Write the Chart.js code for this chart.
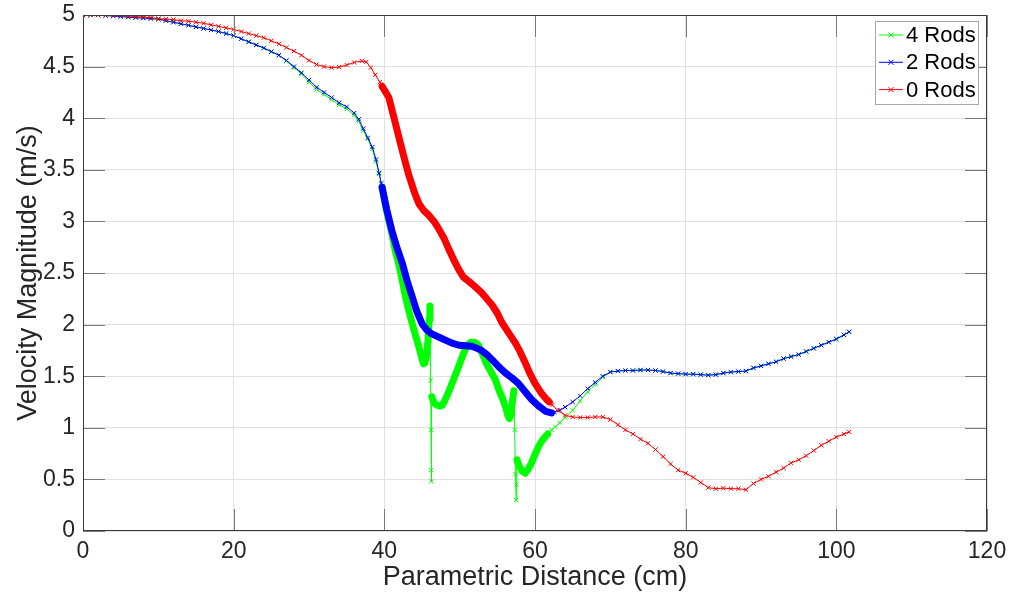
<!DOCTYPE html>
<html>
<head>
<meta charset="utf-8">
<script src="https://cdn.jsdelivr.net/npm/chart.js@4.4.1/dist/chart.umd.min.js"></script>
<style>
  body { margin: 0; background: #fff; }
  #wrap { width: 1009px; height: 602px; }
</style>
</head>
<body>
<div id="wrap"><canvas id="grafico" width="1009" height="602"></canvas></div>
<script>
const xTicks = [0, 20, 40, 60, 80, 100, 120]
const yTicks = [0, 0.5, 1, 1.5, 2, 2.5, 3, 3.5, 4, 4.5, 5]
const rotulos = ["4 Rods", "2 Rods", "0 Rods"]
const tituloX = "Parametric Distance (cm)"
const tituloY = "Velocity Magnitude (m/s)"

// 4 Rods
const xVerde = [
  0, 1, 2, 3, 4, 5, 6, 7, 8, 9, 10, 11, 12, 13, 14, 15, 16, 17, 18, 19, 20, 21, 22, 23, 24, 25, 26, 27,
  28, 29, 30, 31, 32, 33, 34, 35, 36, 36.6, 37.2, 37.8, 38.4, 38.9, 39.3, 39.6,
  39.7, 40.3, 41.0, 41.5, 41.9, 42.4, 42.8, 43.3, 43.7, 44.2, 44.6, 45.0, 45.2, 45.4, 45.6, 45.8, 45.95, 46.05,
  46.15, 46.2, 46.22, 46.25,
  46.3, 46.6, 47.0, 47.4, 47.7, 48.0, 48.5, 49.2, 49.9, 50.5, 51.0, 51.5, 52.0, 52.5, 53.0, 53.5, 54.1, 54.7,
  55.2, 55.7, 56.1, 56.4, 56.6, 56.8, 57.0, 57.2,
  57.3, 57.4, 57.5, 57.55,
  57.6, 57.9, 58.3, 58.7, 59.1, 59.6, 60.1, 60.7, 61.2, 61.7,
  62.2, 62.7, 63.3, 64, 65, 66, 67, 68, 69, 70, 71, 72, 73, 74, 75, 76, 77, 78, 79, 80, 81, 82, 83, 84,
  85, 86, 87, 88, 89, 90, 91, 92, 93, 94, 95, 96, 97, 98, 99, 100, 101, 101.7
]
const yVerde = [
  5.00, 5.00, 5.00, 4.995, 4.99, 4.985, 4.98, 4.975, 4.97, 4.965, 4.96, 4.945, 4.93, 4.915, 4.90, 4.885,
  4.87, 4.855, 4.84, 4.82, 4.80, 4.77, 4.74, 4.71, 4.68, 4.645, 4.61, 4.555,
  4.49, 4.43, 4.35, 4.28, 4.23, 4.18, 4.13, 4.09, 4.03, 3.97, 3.88, 3.80, 3.70, 3.58, 3.46, 3.36,
  3.33, 3.10, 2.88, 2.70, 2.59, 2.42, 2.27, 2.12, 2.01, 1.88, 1.78, 1.67, 1.62, 1.63, 1.70, 1.85, 2.05, 2.18,
  1.46, 0.98, 0.59, 0.48,
  1.30, 1.24, 1.22, 1.21, 1.22, 1.26, 1.34, 1.47, 1.60, 1.72, 1.80, 1.83, 1.83, 1.80, 1.72, 1.63, 1.55, 1.47,
  1.37, 1.28, 1.20, 1.12, 1.09, 1.13, 1.25, 1.36,
  0.98, 0.55, 0.30, 0.45,
  0.69, 0.63, 0.58, 0.56, 0.60, 0.67, 0.76, 0.85, 0.90, 0.94,
  0.98, 1.01, 1.05, 1.10, 1.17, 1.26, 1.35, 1.42, 1.49, 1.54, 1.55, 1.555, 1.555, 1.56, 1.56, 1.555, 1.545,
  1.53, 1.525, 1.52, 1.52, 1.515, 1.51, 1.515, 1.53, 1.54, 1.545, 1.55, 1.58, 1.60, 1.62, 1.64, 1.67, 1.69,
  1.71, 1.74, 1.77, 1.80, 1.83, 1.86, 1.90, 1.93
]

// 2 Rods
const xAzul = [
  0, 1, 2, 3, 4, 5, 6, 7, 8, 9, 10, 11, 12, 13, 14, 15, 16, 17, 18, 19, 20, 21, 22, 23, 24, 25, 26, 27,
  28, 29, 30, 31, 32, 33, 34, 35, 36, 36.6, 37.2, 37.8, 38.4, 38.9, 39.3, 39.6,
  39.7, 40.3, 41.0, 41.7, 42.4, 43.0, 43.7, 44.3, 45.0, 45.6, 46.3, 47.2, 48.1, 49.0, 49.9, 50.8, 51.6, 52.3,
  52.9, 53.6, 54.3, 55.2, 56.1, 57.0, 57.8, 58.7, 59.6, 60.5, 61.4, 62.2,
  62.6, 63.3, 64, 65, 66, 67, 68, 69, 70, 71, 72, 73, 74, 75, 76, 77, 78, 79, 80, 81, 82, 83, 84,
  85, 86, 87, 88, 89, 90, 91, 92, 93, 94, 95, 96, 97, 98, 99, 100, 101, 101.7
]
const yAzul = [
  5.00, 5.00, 5.00, 4.995, 4.99, 4.985, 4.98, 4.975, 4.97, 4.965, 4.96, 4.945, 4.93, 4.915, 4.90, 4.885,
  4.87, 4.855, 4.84, 4.82, 4.80, 4.77, 4.74, 4.71, 4.68, 4.645, 4.61, 4.56,
  4.50, 4.44, 4.37, 4.30, 4.25, 4.20, 4.15, 4.11, 4.05, 3.99, 3.90, 3.81, 3.72, 3.60, 3.47, 3.37,
  3.33, 3.12, 2.91, 2.74, 2.59, 2.43, 2.27, 2.13, 2.01, 1.95, 1.91, 1.88, 1.85, 1.82, 1.80, 1.795, 1.79, 1.77,
  1.75, 1.71, 1.66, 1.59, 1.53, 1.48, 1.43, 1.35, 1.27, 1.21, 1.16, 1.145,
  1.15, 1.17, 1.20, 1.25, 1.31, 1.38, 1.44, 1.50, 1.54, 1.55, 1.555, 1.555, 1.56, 1.56, 1.555, 1.545,
  1.53, 1.525, 1.52, 1.52, 1.515, 1.51, 1.515, 1.53, 1.54, 1.545, 1.55, 1.58, 1.60, 1.62, 1.64, 1.67, 1.69,
  1.71, 1.74, 1.77, 1.80, 1.83, 1.86, 1.90, 1.93
]

// 0 Rods
const xVermelho = [
  0, 1, 2, 3, 4, 5, 6, 7, 8, 9, 10, 11, 12, 13, 14, 15, 16, 17, 18, 19, 20, 21, 22, 23, 24, 25, 26, 27,
  28, 29, 30, 31, 32, 33, 34, 35, 36, 37, 37.6, 38.2, 38.8, 39.4,
  39.7, 40.6, 41.5, 42.4, 43.2, 44.0, 44.6, 45.3, 45.9, 46.6, 47.2, 47.9, 48.5, 49.2, 49.9, 50.5, 51.2,
  52.0, 52.9, 53.6, 54.3, 55.0, 55.6, 56.5, 57.4, 58.0, 58.7, 59.3, 60.0, 60.8, 61.6, 61.9,
  62.3, 63, 64, 65, 66, 67, 68, 69, 70, 71, 72, 73, 74, 75, 76, 77, 78, 79, 80, 81, 82, 83, 84,
  85, 86, 87, 88, 89, 90, 91, 92, 93, 94, 95, 96, 97, 98, 99, 100, 101, 101.7
]
const yVermelho = [
  5.00, 5.00, 5.00, 5.00, 4.995, 4.995, 4.99, 4.985, 4.98, 4.975, 4.965, 4.96, 4.955, 4.945, 4.94, 4.93,
  4.92, 4.905, 4.89, 4.875, 4.86, 4.84, 4.82, 4.80, 4.78, 4.75, 4.72, 4.685,
  4.65, 4.61, 4.56, 4.52, 4.50, 4.49, 4.495, 4.515, 4.54, 4.555, 4.545, 4.49, 4.42, 4.35,
  4.31, 4.20, 3.94, 3.68, 3.46, 3.28, 3.17, 3.10, 3.06, 3.00, 2.93, 2.84, 2.74, 2.63, 2.53, 2.46, 2.42,
  2.37, 2.31, 2.25, 2.19, 2.11, 2.02, 1.92, 1.82, 1.74, 1.63, 1.53, 1.43, 1.34, 1.27, 1.25,
  1.22, 1.17, 1.12, 1.105, 1.10, 1.10, 1.105, 1.105, 1.08, 1.03, 0.98, 0.94, 0.89, 0.85, 0.79, 0.72, 0.65,
  0.59, 0.56, 0.52, 0.47, 0.42, 0.41, 0.415, 0.41, 0.41, 0.40, 0.46, 0.50, 0.53, 0.57, 0.61, 0.66, 0.69,
  0.73, 0.78, 0.83, 0.87, 0.91, 0.94, 0.96
]

// trechos onde os marcadores ficam colados e viram uma faixa grossa
const faixasVerde = [[39.65, 46.06], [46.29, 57.21], [57.59, 61.75]]
const faixasAzul = [[39.65, 62.25]]
const faixasVermelho = [[39.65, 61.95]]

const cores = ["#00ff00", "#0000ff", "#ff0000"]

function dentro(faixas, a, b) {
  return faixas.some(f => a >= f[0] && b <= f[1])
}

function montarSerie(rotulo, xs, ys, cor, faixas, ordem) {
  return {
    label: rotulo,
    data: xs.map((x, i) => ({ x, y: ys[i] })),
    borderColor: cor,
    backgroundColor: cor,
    borderWidth: 1,
    borderCapStyle: "round",
    borderJoinStyle: "round",
    pointStyle: "crossRot",
    pointRadius: 3,
    pointHoverRadius: 3,
    pointBorderWidth: 1,
    tension: 0,
    order: ordem,
    segment: {
      borderWidth: ctx => dentro(faixas, ctx.p0.parsed.x, ctx.p1.parsed.x) ? 7 : 1
    }
  }
}

const moldura = {
  id: "moldura",
  afterDatasetsDraw(chart) {
    const { ctx, chartArea: a, scales } = chart
    ctx.save()

    // ticks para dentro nos quatro lados
    ctx.strokeStyle = "#7a7a7a"
    ctx.lineWidth = 1
    ctx.beginPath()
    xTicks.forEach(v => {
      const px = Math.round(scales.x.getPixelForValue(v)) + 0.5
      ctx.moveTo(px, a.bottom)
      ctx.lineTo(px, a.bottom - 22)
      ctx.moveTo(px, a.top)
      ctx.lineTo(px, a.top + 22)
    })
    yTicks.forEach(v => {
      const py = Math.round(scales.y.getPixelForValue(v)) + 0.5
      ctx.moveTo(a.left, py)
      ctx.lineTo(a.left + 22, py)
      ctx.moveTo(a.right, py)
      ctx.lineTo(a.right - 22, py)
    })
    ctx.stroke()

    ctx.strokeStyle = "#3a3a3a"
    ctx.strokeRect(a.left + 0.5, a.top + 0.5, a.width - 1, a.height - 1)

    // legenda
    const lx = 875.5, ly = 21.5
    ctx.fillStyle = "#fff"
    ctx.fillRect(lx, ly, 103, 83)
    ctx.strokeStyle = "#a8a8a8"
    ctx.strokeRect(lx, ly, 103, 83)
    ctx.font = "22px 'Liberation Sans', Arial, sans-serif"
    ctx.textBaseline = "middle"
    rotulos.forEach((r, i) => {
      const y = 35 + i * 27.3
      ctx.strokeStyle = cores[i]
      ctx.beginPath()
      ctx.moveTo(879, y)
      ctx.lineTo(903, y)
      ctx.moveTo(888.5, y - 2.5)
      ctx.lineTo(893.5, y + 2.5)
      ctx.moveTo(888.5, y + 2.5)
      ctx.lineTo(893.5, y - 2.5)
      ctx.stroke()
      ctx.fillStyle = "#000"
      ctx.fillText(r, 906, y + 1)
    })
    ctx.restore()
  }
}

const fonteTick = { family: "'Liberation Sans', Arial, sans-serif", size: 23 }
const fonteTitulo = { family: "'Liberation Sans', Arial, sans-serif", size: 27 }

new Chart(document.getElementById("grafico"), {
  type: "line",
  data: {
    datasets: [
      montarSerie(rotulos[0], xVerde, yVerde, cores[0], faixasVerde, 3),
      montarSerie(rotulos[1], xAzul, yAzul, cores[1], faixasAzul, 2),
      montarSerie(rotulos[2], xVermelho, yVermelho, cores[2], faixasVermelho, 1)
    ]
  },
  options: {
    responsive: false,
    animation: false,
    events: [],
    layout: { padding: { left: 0, top: 15, right: 22, bottom: 0 } },
    plugins: {
      legend: { display: false },
      tooltip: { enabled: false }
    },
    scales: {
      x: {
        type: "linear",
        min: 0,
        max: 120,
        afterBuildTicks: s => { s.ticks = xTicks.map(v => ({ value: v })) },
        afterFit: s => {
          s.height = 71
          s.paddingLeft = 0
          s.paddingRight = 0
        },
        grid: { color: "#e1e1e1", drawTicks: false },
        border: { display: false },
        ticks: { font: fonteTick, color: "#262626", padding: 7, maxRotation: 0, callback: v => String(v) },
        title: { display: true, text: tituloX, font: fonteTitulo, color: "#262626", padding: { top: 0, bottom: 8 } }
      },
      y: {
        type: "linear",
        min: 0,
        max: 5,
        afterBuildTicks: s => { s.ticks = yTicks.map(v => ({ value: v })) },
        afterFit: s => {
          s.width = 83
          s.paddingTop = 0
          s.paddingBottom = 0
        },
        grid: { color: "#e1e1e1", drawTicks: false },
        border: { display: false },
        ticks: { font: fonteTick, color: "#262626", padding: 8, callback: v => String(v) },
        title: { display: true, text: tituloY, font: fonteTitulo, color: "#262626", padding: { top: 12, bottom: 0 } }
      }
    }
  },
  plugins: [moldura]
})
</script>
</body>
</html>
